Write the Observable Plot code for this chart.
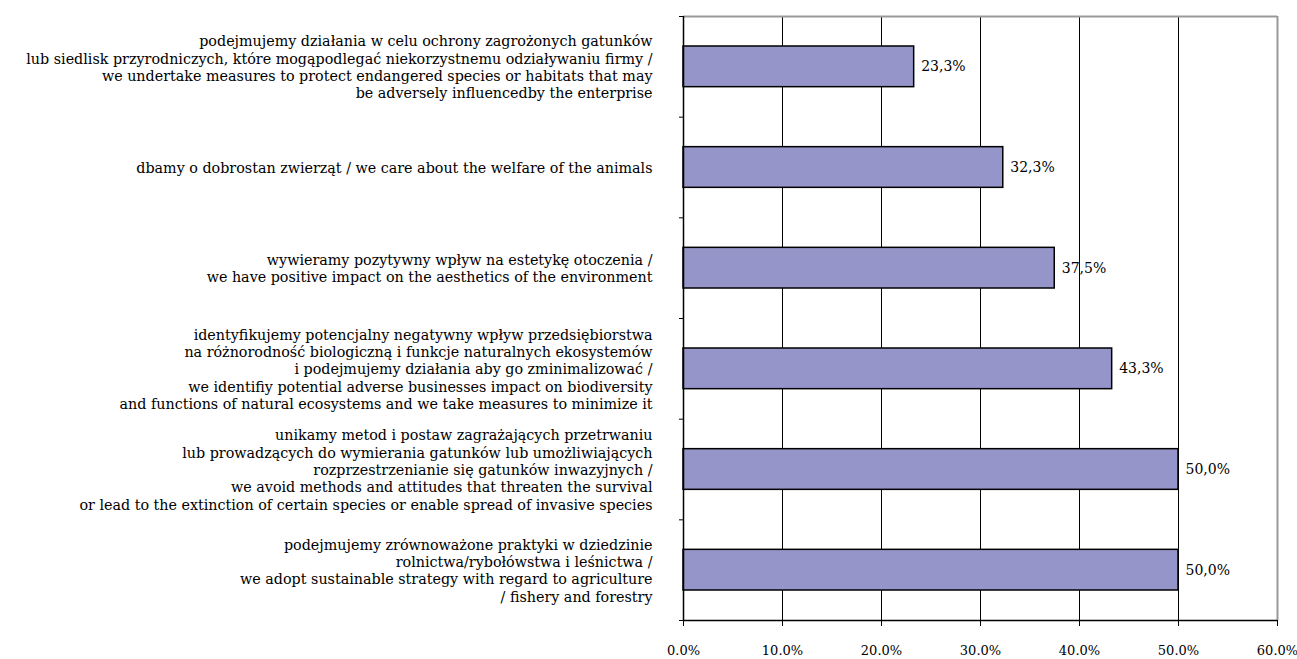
<!DOCTYPE html>
<html>
<head>
<meta charset="utf-8">
<script src="https://cdn.jsdelivr.net/npm/d3@7"></script>
<script src="https://cdn.jsdelivr.net/npm/@observablehq/plot@0.6"></script>
<style>
  html, body { margin: 0; padding: 0; background: #fff; }
  #chart svg { display: block; }
</style>
</head>
<body>
<div id="chart"></div>
<script>
const categories = [
  "podejmujemy działania w celu ochrony zagrożonych gatunków\nlub siedlisk przyrodniczych, które mogąpodlegać niekorzystnemu odziaływaniu firmy /\nwe undertake measures to protect endangered species or habitats that may\nbe adversely influencedby the enterprise",
  "dbamy o dobrostan zwierząt / we care about the welfare of the animals",
  "wywieramy pozytywny wpływ na estetykę otoczenia /\nwe have positive impact on the aesthetics of the environment",
  "identyfikujemy potencjalny negatywny wpływ przedsiębiorstwa\nna różnorodność biologiczną i funkcje naturalnych ekosystemów\ni podejmujemy działania aby go zminimalizować /\nwe identifiy potential adverse businesses impact on biodiversity\nand functions of natural ecosystems and we take measures to minimize it",
  "unikamy metod i postaw zagrażających przetrwaniu\nlub prowadzących do wymierania gatunków lub umożliwiających\nrozprzestrzenianie się gatunków inwazyjnych /\nwe avoid methods and attitudes that threaten the survival\nor lead to the extinction of certain species or enable spread of invasive species",
  "podejmujemy zrównoważone praktyki w dziedzinie\nrolnictwa/rybołówstwa i leśnictwa /\nwe adopt sustainable strategy with regard to agriculture\n/ fishery and forestry"
];
const values = [23.3, 32.3, 37.5, 43.3, 50.0, 50.0];
const valueLabels = ["23,3%", "32,3%", "37,5%", "43,3%", "50,0%", "50,0%"];
const xTicks = [0, 10, 20, 30, 40, 50, 60];
const gridTicks = [10, 20, 30, 40, 50];

const data = categories.map((c, i) => ({i, category: c, value: values[i], label: valueLabels[i]}));
const bandEdges = d3.range(categories.length + 1);

const font = "'DejaVu Serif', serif";

const chart = Plot.plot({
  width: 1297,
  height: 659,
  marginLeft: 683,
  marginRight: 20,
  marginTop: 16,
  marginBottom: 39,
  style: {fontFamily: font, fontSize: "13px", color: "#000", background: "#fff"},
  x: {domain: [0, 60]},
  y: {domain: [0, categories.length], reverse: true},
  marks: [
    Plot.ruleX(gridTicks, {stroke: "#000", strokeWidth: 1}),
    Plot.ruleY([0], {stroke: "#999", strokeWidth: 2}),
    Plot.ruleX([60], {stroke: "#999", strokeWidth: 2}),
    Plot.rectX(data, {
      x1: 0, x2: "value",
      y1: d => d.i, y2: d => d.i + 1,
      insetTop: 30, insetBottom: 30,
      fill: "#9595c9", stroke: "#000", strokeWidth: 1.5
    }),
    Plot.text(data, {
      x: "value", y: d => d.i + 0.5, text: "label",
      textAnchor: "start", dx: 7, fill: "#000", fontSize: 14
    }),
    Plot.text(data, {
      x: 0, y: d => d.i + 0.5, text: "category",
      textAnchor: "end", dx: -31, lineHeight: 1.21, fill: "#000", fontSize: 14.3
    }),
    Plot.axisX({
      ticks: xTicks, tickFormat: d => d.toFixed(1) + "%",
      tickSize: 6, tickPadding: 19, label: null, fontSize: 13
    }),
    Plot.axisY({
      ticks: bandEdges, tickFormat: () => "", tickSize: 4, label: null
    }),
    Plot.ruleX([0], {stroke: "#000", strokeWidth: 1.5}),
    Plot.ruleY([categories.length], {stroke: "#000", strokeWidth: 1.5})
  ]
});
document.getElementById("chart").append(chart);
</script>
</body>
</html>
